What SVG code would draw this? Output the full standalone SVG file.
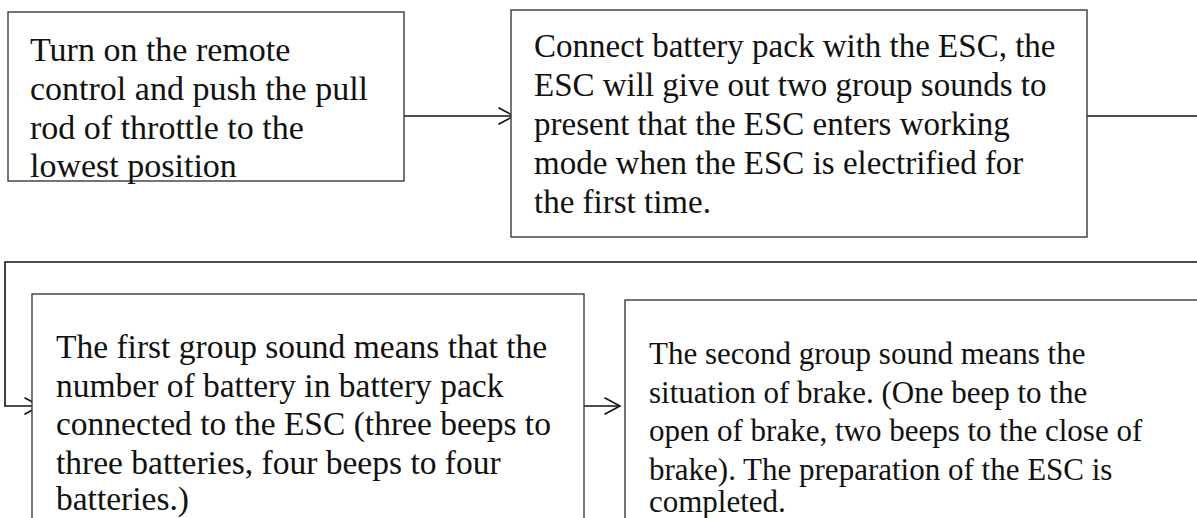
<svg xmlns="http://www.w3.org/2000/svg" width="1197" height="518" viewBox="0 0 1197 518">
<style>
.box{fill:#fff;stroke:#3a3a3a;stroke-width:1.4}
.t{font-family:"Liberation Serif","DejaVu Serif",serif;fill:#111}
.c{fill:none;stroke:#111;stroke-width:1.6}
.ah{fill:none;stroke:#111;stroke-width:1.6;stroke-linecap:round;stroke-linejoin:miter}
</style>
<rect width="1197" height="518" fill="#fff"/>
<g id="connectors">
  <path class="c" d="M390 116 H514"/>
  <path class="ah" d="M499 108 L514 116 L499 124"/>
  <path class="c" d="M1087 116 H1197"/>
  <path class="c" d="M1197 262 H5 V406 H40"/>
  <path class="ah" d="M25 398 L40 406 L25 414"/>
  <path class="c" d="M584 406 H620"/>
  <path class="ah" d="M605 398 L620 406 L605 414"/>
</g>
<g id="node1">
  <rect class="box" x="8" y="12" width="396" height="169"/>
  <text class="t" font-size="34">
    <tspan x="30" y="61">Turn on the remote</tspan>
    <tspan x="30" y="100">control and push the pull</tspan>
    <tspan x="30" y="139">rod of throttle to the</tspan>
    <tspan x="30" y="177">lowest position</tspan>
  </text>
</g>
<g id="node2">
  <rect class="box" x="511" y="10" width="576" height="227"/>
  <text class="t" font-size="33">
    <tspan x="534" y="57">Connect battery pack with the ESC, the</tspan>
    <tspan x="534" y="96">ESC will give out two group sounds to</tspan>
    <tspan x="534" y="135">present that the ESC enters working</tspan>
    <tspan x="534" y="174">mode when the ESC is electrified for</tspan>
    <tspan x="534" y="213">the first time.</tspan>
  </text>
</g>
<g id="node3">
  <rect class="box" x="32" y="294" width="552" height="240"/>
  <text class="t" font-size="33.5">
    <tspan x="56" y="358">The first group sound means that the</tspan>
    <tspan x="56" y="396.5">number of battery in battery pack</tspan>
    <tspan x="56" y="435">connected to the ESC (three beeps to</tspan>
    <tspan x="56" y="473.5">three batteries, four beeps to four</tspan>
    <tspan x="56" y="510">batteries.)</tspan>
  </text>
</g>
<g id="node4">
  <rect class="box" x="625" y="300" width="590" height="240"/>
  <text class="t" font-size="31">
    <tspan x="649" y="364">The second group sound means the</tspan>
    <tspan x="649" y="402.5">situation of brake. (One beep to the</tspan>
    <tspan x="649" y="441">open of brake, two beeps to the close of</tspan>
    <tspan x="649" y="479.5">brake). The preparation of the ESC is</tspan>
    <tspan x="649" y="512">completed.</tspan>
  </text>
</g>
</svg>
